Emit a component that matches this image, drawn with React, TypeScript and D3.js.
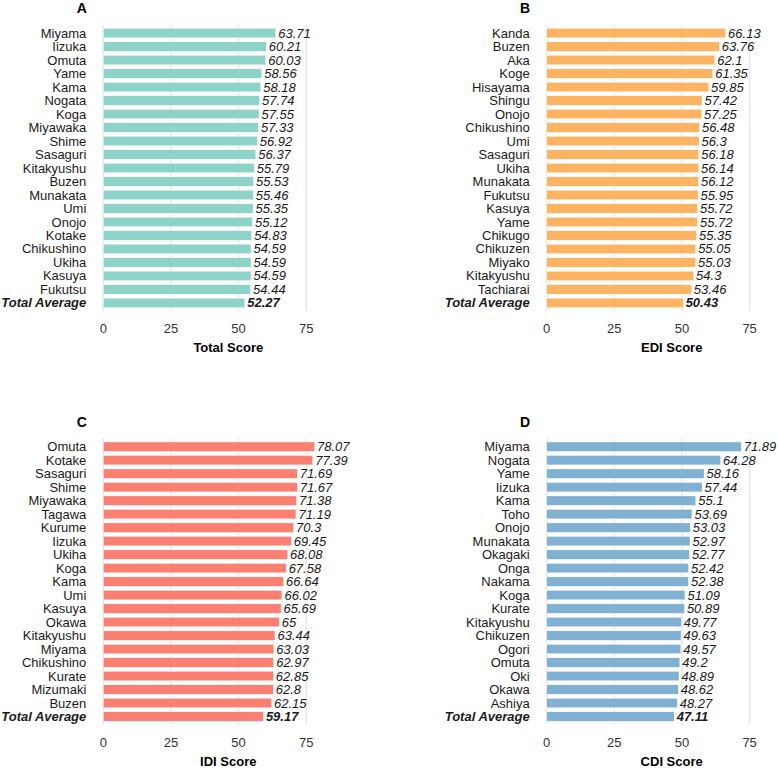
import * as d3 from "d3";

// Fukuoka municipalities, top 20 per index plus the prefecture average
const totalNames = ["Miyama","Iizuka","Omuta","Yame","Kama","Nogata","Koga","Miyawaka","Shime","Sasaguri","Kitakyushu","Buzen","Munakata","Umi","Onojo","Kotake","Chikushino","Ukiha","Kasuya","Fukutsu","Total Average"]
const totalValues = [63.71,60.21,60.03,58.56,58.18,57.74,57.55,57.33,56.92,56.37,55.79,55.53,55.46,55.35,55.12,54.83,54.59,54.59,54.59,54.44,52.27]

const ediNames = ["Kanda","Buzen","Aka","Koge","Hisayama","Shingu","Onojo","Chikushino","Umi","Sasaguri","Ukiha","Munakata","Fukutsu","Kasuya","Yame","Chikugo","Chikuzen","Miyako","Kitakyushu","Tachiarai","Total Average"]
const ediValues = [66.13,63.76,62.1,61.35,59.85,57.42,57.25,56.48,56.3,56.18,56.14,56.12,55.95,55.72,55.72,55.35,55.05,55.03,54.3,53.46,50.43]

const idiNames = ["Omuta","Kotake","Sasaguri","Shime","Miyawaka","Tagawa","Kurume","Iizuka","Ukiha","Koga","Kama","Umi","Kasuya","Okawa","Kitakyushu","Miyama","Chikushino","Kurate","Mizumaki","Buzen","Total Average"]
const idiValues = [78.07,77.39,71.69,71.67,71.38,71.19,70.3,69.45,68.08,67.58,66.64,66.02,65.69,65,63.44,63.03,62.97,62.85,62.8,62.15,59.17]

const cdiNames = ["Miyama","Nogata","Yame","Iizuka","Kama","Toho","Onojo","Munakata","Okagaki","Onga","Nakama","Koga","Kurate","Kitakyushu","Chikuzen","Ogori","Omuta","Oki","Okawa","Ashiya","Total Average"]
const cdiValues = [71.89,64.28,58.16,57.44,55.1,53.69,53.03,52.97,52.77,52.42,52.38,51.09,50.89,49.77,49.63,49.57,49.2,48.89,48.62,48.27,47.11]

const xTicks = [0, 25, 50, 75]

const FONT = "'Liberation Sans', Arial, Helvetica, sans-serif"

type PanelProps = {
     letter: string,
     title: string,
     names: string[],
     values: number[],
     color: string,
     left: number,
     top: number
}

const Panel = (props: PanelProps) => {
     const { letter, title, names, values, color, left, top } = props
     const dims = { width: 250, height: 286 }

     const xScale = d3.scaleLinear()
          .domain([0, 92.4])
          .range([0, dims.width])

     const yScale = d3.scaleBand()
          .domain(names)
          .range([0, dims.height])
          .paddingInner(0.3)
          .paddingOuter(0.25)

     const isAvg = (n: string) => n === "Total Average"

     return (
          <g transform={`translate(${left},${top})`} fontFamily={FONT}>
               {/* panel tag */}
               <text x={-16.5} y={-17} textAnchor="end" dominantBaseline="central"
                    fontSize={14} fontWeight="bold" fill="#000">{letter}</text>

               {/* vertical grid */}
               {xTicks.map((t) => (
                    <line key={t} x1={xScale(t)} x2={xScale(t)} y1={0} y2={dims.height}
                         stroke="#e8e8e8" strokeWidth={1.5} />
               ))}

               {names.map((name, i) => {
                    const y = yScale(name)!
                    const cy = y + yScale.bandwidth() / 2
                    const avg = isAvg(name)
                    return (
                         <g key={name}>
                              <rect
                                   x={xScale(0)}
                                   y={y}
                                   width={xScale(values[i]) - xScale(0)}
                                   height={yScale.bandwidth()}
                                   fill={color}
                                   stroke="#ffffff"
                                   strokeWidth={0.4}
                              />
                              <text x={-17} y={cy} dy="0.35em" textAnchor="end" fontSize={13}
                                   fill="#1a1a1a" fontWeight={avg ? "bold" : "normal"}
                                   fontStyle={avg ? "italic" : "normal"}>{name}</text>
                              <text x={xScale(values[i]) + 2.5} y={cy} dy="0.35em" fontSize={13}
                                   fill="#1a1a1a" fontStyle="italic"
                                   fontWeight={avg ? "bold" : "normal"}>{values[i]}</text>
                         </g>
                    )
               })}

               {/* x axis labels */}
               {xTicks.map((t) => (
                    <text key={t} x={xScale(t)} y={dims.height + 17.5} dy="0.35em" textAnchor="middle"
                         fontSize={13} fill="#333">{t}</text>
               ))}
               <text x={dims.width / 2} y={dims.height + 36.8} dy="0.35em" textAnchor="middle"
                    fontSize={13} fontWeight="bold" fill="#000">{title}</text>
          </g>
     )
}

const App = () => {
     return (
          <svg width={778} height={768} style={{ position: "absolute", left: 0, top: 0, background: "#fff" }}>
               <Panel letter="A" title="Total Score" names={totalNames} values={totalValues} color="#8dd3c7" left={103.3} top={25} />
               <Panel letter="B" title="EDI Score" names={ediNames} values={ediValues} color="#fdb462" left={546.7} top={25} />
               <Panel letter="C" title="IDI Score" names={idiNames} values={idiValues} color="#fb8072" left={103.3} top={438.6} />
               <Panel letter="D" title="CDI Score" names={cdiNames} values={cdiValues} color="#80b1d3" left={546.7} top={438.6} />
          </svg>
     )
}

export default App
